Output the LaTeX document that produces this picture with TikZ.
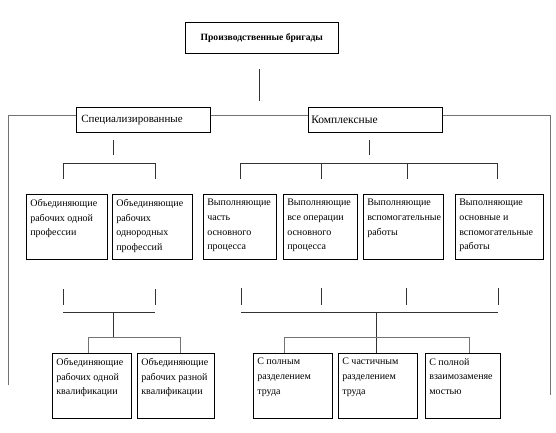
\documentclass[tikz,border=0pt]{standalone}
\usepackage{fontspec}
\setmainfont{Liberation Serif}
\newcommand\bxt[3]{\begin{minipage}[c][#2pt][t]{\dimexpr#1pt-8pt\relax}\raggedright\vspace*{5pt}#3\end{minipage}}
\begin{document}
\begin{tikzpicture}[x=1pt,y=-1pt,
  box/.style={draw=black, line width=0.6pt, fill=white, inner xsep=4pt, inner ysep=0pt, anchor=north west, font=\fontsize{10}{14.6}\selectfont},
  ln/.style={draw=black!80, line width=0.7pt},
  lg/.style={draw=black!55, line width=0.8pt}]
\useasboundingbox[fill=white] (0,0) rectangle (556,432);
% frame lines
\coordinate (fl) at (8,385);
\coordinate (flt) at (8,115);
\coordinate (frt) at (550,115);
\coordinate (fr) at (550,395);
\draw[lg] (fl) -- (flt) -- (frt) -- (fr);
\coordinate (tv1) at (259,69);
\coordinate (tv2) at (259,101);
\draw[ln] (tv1) -- (tv2);
% top
\node[box, inner sep=0pt, minimum width=153pt, minimum height=31pt, font=\fontsize{9.6}{12}\selectfont\bfseries] (top) at (185,22) {Производственные бригады};
\node[box, inner xsep=5pt, text width=124pt, minimum height=25pt, align=left, font=\fontsize{11}{13}\selectfont] (spec) at (76,107) {Специализированные};
\node[box, inner xsep=3pt, text width=128pt, minimum height=25pt, align=left, font=\fontsize{11.5}{13}\selectfont] (comp) at (308,107) {Комплексные};
% spec branch
\coordinate (s1) at (113,140); \coordinate (s2) at (113,155);
\draw[ln] (s1) -- (s2);
\coordinate (sa) at (63,179); \coordinate (sb) at (155,179);
\draw[ln] (sa) -- (63,163) -- (155,163) -- (sb);
% comp branch
\coordinate (c1) at (369,140); \coordinate (c2) at (369,155);
\draw[ln] (c1) -- (c2);
\coordinate (ca) at (240,179); \coordinate (cb) at (321,179); \coordinate (cc) at (407,179); \coordinate (cd) at (497,179);
\draw[ln] (ca) -- (240,163) -- (497,163) -- (cd);
\draw[ln] (cb) -- (321,163) (cc) -- (407,163);
% row 1 boxes
\node[box] (a) at (26,194) {\bxt{81}{65}{Объединяющие\\рабочих одной\\профессии}};
\node[box] (b) at (112,194) {\bxt{80}{65}{Объединяющие\\рабочих\\однородных\\профессий}};
\node[box] (c) at (203,194) {\bxt{73}{65}{Выполняющие\\часть\\основного\\процесса}};
\node[box] (d) at (283,194) {\bxt{74}{65}{Выполняющие\\все операции\\основного\\процесса}};
\node[box] (e) at (363,194) {\bxt{80}{65}{Выполняющие\\вспомогательные\\работы}};
\node[box] (f) at (455,194) {\bxt{88}{65}{Выполняющие\\основные и\\вспомогательные\\работы}};
% row 2 left connectors
\coordinate (la1) at (63,289); \coordinate (la2) at (63,305);
\coordinate (lb1) at (155,289); \coordinate (lb2) at (155,305);
\draw[ln] (la1) -- (la2) (lb1) -- (lb2);
\coordinate (lh1) at (63,312); \coordinate (lh2) at (155,312);
\draw[ln] (lh1) -- (lh2);
\coordinate (lm) at (113,312);
% row 2 right connectors
\coordinate (ra1) at (241,288); \coordinate (ra2) at (241,305);
\coordinate (rb1) at (321,288); \coordinate (rb2) at (321,305);
\coordinate (rc1) at (406,288); \coordinate (rc2) at (406,305);
\coordinate (rd1) at (498,288); \coordinate (rd2) at (498,305);
\draw[ln] (ra1) -- (ra2) (rb1) -- (rb2) (rc1) -- (rc2) (rd1) -- (rd2);
\coordinate (rh1) at (241,312); \coordinate (rh2) at (498,312);
\draw[ln] (rh1) -- (rh2);
\coordinate (rm) at (376,312);
% row 2 boxes
\node[box] (g) at (52,353) {\bxt{79}{65}{Объединяющие\\рабочих одной\\квалификации}};
\node[box] (h) at (137,353) {\bxt{77}{65}{Объединяющие\\рабочих разной\\квалификации}};
\node[box] (i) at (253,353) {\bxt{79}{65}{С полным\\разделением\\труда}};
\node[box] (j) at (338,353) {\bxt{79}{65}{С частичным\\разделением\\труда}};
\node[box] (k) at (425,353) {\bxt{75}{65}{С полной\\взаимозаменяе\\мостью}};
% row 2 feeders
\draw[ln] (lm) -- (113,337);
\draw[lg] (g.north -| 88,0) -- (88,337) -- (180,337) -- (h.north -| 180,0);
\draw[ln] (rm) -- (j.north -| rm);
\draw[lg] (i.north -| 284,0) -- (284,337) -- (469,337) -- (k.north -| 469,0);
\end{tikzpicture}
\end{document}
